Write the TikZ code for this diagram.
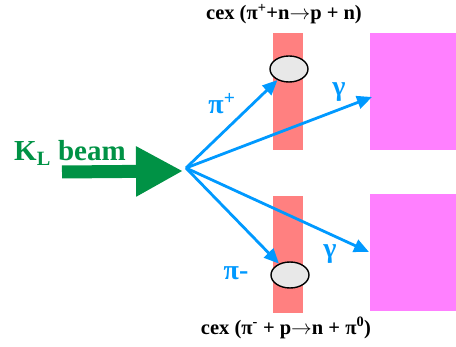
\documentclass[tikz,border=0pt]{standalone}
\usepackage{fontspec}
\setmainfont{Liberation Serif}
\usetikzlibrary{arrows.meta,shapes.geometric}
\definecolor{beamgreen}{RGB}{0,146,69}
\definecolor{rayblue}{RGB}{0,153,255}
\definecolor{cexred}{RGB}{255,128,128}
\definecolor{calpink}{RGB}{255,128,255}
\newcommand{\cexto}{\ensuremath{\rightarrow}}
\tikzset{
  cexbar/.style  = {fill=cexred, draw=none, minimum width=30pt, minimum height=117pt, inner sep=0pt},
  calbox/.style  = {fill=calpink, draw=none, minimum width=86pt, minimum height=117pt, inner sep=0pt},
  hit/.style     = {ellipse, draw, line width=1.4pt, fill=black!9, minimum width=38pt, minimum height=26pt, inner sep=0pt},
  ray/.style     = {-{Triangle[length=15pt,width=13pt]}, line width=2.8pt, rayblue},
  beam/.style    = {-{Triangle[length=47pt,width=47pt]}, line width=13pt, beamgreen},
  raylabel/.style= {font=\fontsize{28}{29}\selectfont\bfseries, text=rayblue, inner sep=0pt},
  cexlabel/.style= {font=\fontsize{20.5}{22}\selectfont\bfseries, inner sep=0pt}
}
\begin{document}
\begin{tikzpicture}[x=1pt,y=-1pt]
		\useasboundingbox (0,0) rectangle (456,347);
		\node[cexbar] (bartop) at (288,91.5) {};
		\node[cexbar] (barbot) at (288,254.5) {};
		\node[calbox] (caltop) at (413,91.5) {};
		\node[calbox] (calbot) at (413,253) {};
		\node[hit] (hittop) at (289,69) {};
		\node[hit] (hitbot) at (290,275) {};

		\coordinate (src) at (186,168);
		\coordinate (gtop) at (372,97);
		\coordinate (gbot) at (369,252);
		\coordinate (beamtail) at (62,172);
		\coordinate (beamtip) at (183,171);

		% beam
		\draw[beam] (beamtail) -- (beamtip);
		\node[font=\fontsize{29}{30}\selectfont\bfseries, text=beamgreen, inner sep=0pt] (klbeam) at (70,153) {K\textsubscript{L} beam};

		% rays
		\draw[ray] (src) -- (hittop);
		\draw[ray] (src) -- (hitbot);
		\draw[ray] (src) -- (gtop);
		\draw[ray] (src) -- (gbot);
		\node[raylabel] (piplus) at (222,104) {π\textsuperscript{+}};
		\node[raylabel] (gamtop) at (339,92) {γ};
		\node[raylabel] (gambot) at (330,254) {γ};
		\node[raylabel] (piminus) at (236,273) {π-};

		\node[cexlabel] (cextop) at (284,14) {cex (π\textsuperscript{+}+n\cexto p + n)};
		\node[cexlabel] (cexbot) at (286,328) {cex (π\textsuperscript{-} + p\cexto n + π\textsuperscript{0})};
	\end{tikzpicture}
\end{document}
